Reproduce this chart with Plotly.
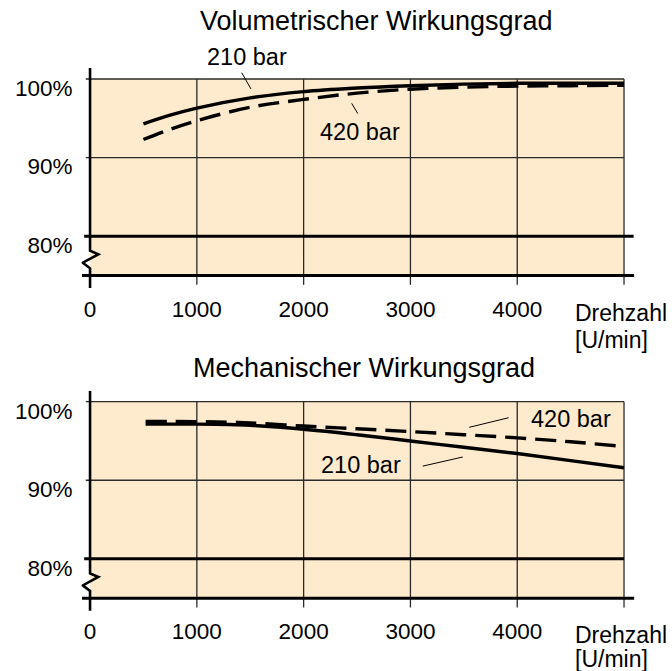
import plotly.graph_objects as go

# ---------------- data ----------------
vol_rpm = [500, 750, 1000, 1500, 2000, 2500, 3000, 3500, 4000, 4500, 5000]
vol_210 = [94.3, 95.4, 96.3, 97.6, 98.4, 98.85, 99.15, 99.35, 99.45, 99.45, 99.45]
vol_420 = [92.3, 93.6, 94.7, 96.4, 97.4, 98.2, 98.7, 98.95, 99.1, 99.15, 99.2]

mech_rpm = [520, 1000, 1300, 1500, 2000, 2500, 3000, 3500, 4000, 4500, 5000]
mech_210 = [97.15, 97.15, 97.1, 97.0, 96.5, 95.8, 95.0, 94.2, 93.4, 92.5, 91.6]
mech_rpm_420 = [520, 1000, 1300, 1500, 2000, 2500, 3000, 3500, 4000, 4500, 4950]
mech_420 = [97.5, 97.45, 97.4, 97.3, 96.9, 96.55, 96.2, 95.8, 95.4, 94.9, 94.35]

x_tick_vals = [0, 1000, 2000, 3000, 4000]
x_tick_text = ["0", "1000", "2000", "3000", "4000"]
y_tick_vals = [80, 90, 100]
y_tick_text = ["80%", "90%", "100%"]
grid_x = [1000, 2000, 3000, 4000, 5000]

titles = ["Volumetrischer Wirkungsgrad", "Mechanischer Wirkungsgrad"]
x_title = ["Drehzahl", "[U/min]"]

# ---------------- style ----------------
FONT = "Liberation Sans, Arial, Helvetica, sans-serif"
PEACH = "#FEEBCD"
GRID = "#2a2a2a"
W, H = 672, 671
XR = [-80, 5100]
YR = [73.4, 101.4]


def px_dom_x(a, b):
    return [a / W, b / W]


def px_dom_y(top, bot):
    return [1 - bot / H, 1 - top / H]


fig = go.Figure()

fig.add_trace(go.Scatter(x=vol_rpm, y=vol_210, mode="lines", line=dict(color="black", width=3.4, shape="spline"),
                         xaxis="x", yaxis="y", showlegend=False))
fig.add_trace(go.Scatter(x=vol_rpm, y=vol_420, mode="lines",
                         line=dict(color="black", width=3.4, shape="spline", dash="21px,9px"),
                         xaxis="x", yaxis="y", showlegend=False))
fig.add_trace(go.Scatter(x=mech_rpm, y=mech_210, mode="lines", line=dict(color="black", width=3.4, shape="spline"),
                         xaxis="x2", yaxis="y2", showlegend=False))
fig.add_trace(go.Scatter(x=mech_rpm_420, y=mech_420, mode="lines",
                         line=dict(color="black", width=3.4, shape="spline", dash="21px,9px"),
                         xaxis="x2", yaxis="y2", showlegend=False))

shapes = []


def panel_shapes(xr, yr, eighty_end):
    s = []
    s.append(dict(type="rect", xref=xr, yref=yr, x0=0, x1=5000, y0=75, y1=100,
                  fillcolor=PEACH, line=dict(width=0), layer="below"))
    for gx in grid_x:
        s.append(dict(type="line", xref=xr, yref=yr, x0=gx, x1=gx, y0=73.8, y1=100,
                      line=dict(color=GRID, width=1.3), layer="below"))
    for gy in [90, 100]:
        s.append(dict(type="line", xref=xr, yref=yr, x0=-40, x1=5000, y0=gy, y1=gy,
                      line=dict(color=GRID, width=1.3), layer="below"))
    s.append(dict(type="line", xref=xr, yref=yr, x0=-55, x1=eighty_end, y0=80, y1=80,
                  line=dict(color="black", width=3), layer="below"))
    s.append(dict(type="line", xref=xr, yref=yr, x0=-75, x1=5095, y0=75, y1=75,
                  line=dict(color="black", width=3), layer="below"))
    s.append(dict(type="path", xref=xr, yref=yr,
                  path="M 0,101.4 L 0,78.15 L 78,77.69 L -68,76.62 L 0,75.91 L 0,73.36",
                  line=dict(color="black", width=2.6), layer="above"))
    return s


shapes += panel_shapes("x", "y", 5090)
shapes += panel_shapes("x2", "y2", 5000)

leaders = [
    ("x", "y", 1420, 100.8, 1507, 98.73),
    ("x", "y", 2450, 96.9, 2507, 95.6),
    ("x2", "y2", 3551, 96.74, 3920, 97.96),
    ("x2", "y2", 3115, 91.8, 3490, 92.96),
]
for xr, yr, x0, y0, x1, y1 in leaders:
    shapes.append(dict(type="line", xref=xr, yref=yr, x0=x0, y0=y0, x1=x1, y1=y1,
                       line=dict(color="black", width=1)))

annotations = []
lab = dict(showarrow=False, font=dict(family=FONT, size=23.5, color="black"),
           xanchor="center", yanchor="middle")
annotations.append(dict(xref="x", yref="paper", x=1470, y=1 - 57 / H, text="210 bar", **lab))
annotations.append(dict(xref="x", yref="y", x=2528, y=93.25, text="420 bar", **lab))
annotations.append(dict(xref="x2", yref="y2", x=4504, y=97.8, text="420 bar", **lab))
annotations.append(dict(xref="x2", yref="y2", x=2537, y=91.9, text="210 bar", **lab))

tfont = dict(family=FONT, size=27, color="black")
annotations.append(dict(xref="paper", yref="paper", x=376.7 / W, y=1 - 21 / H, text=titles[0],
                        showarrow=False, font=tfont, xanchor="center", yanchor="middle"))
annotations.append(dict(xref="paper", yref="paper", x=364 / W, y=1 - 368 / H, text=titles[1],
                        showarrow=False, font=tfont, xanchor="center", yanchor="middle"))

afont = dict(family=FONT, size=23, color="black")
for yc1, yc2 in [(313, 340), (635, 659)]:
    annotations.append(dict(xref="paper", yref="paper", x=572.5 / W, y=1 - yc1 / H, text=x_title[0],
                            showarrow=False, font=afont, xanchor="left", yanchor="middle"))
    annotations.append(dict(xref="paper", yref="paper", x=572.5 / W, y=1 - yc2 / H, text=x_title[1],
                            showarrow=False, font=afont, xanchor="left", yanchor="middle"))

xdom = px_dom_x(81.5, 634.7)
tickfont = dict(family=FONT, size=22.5, color="black")
xax = dict(domain=xdom, range=XR, showgrid=False, zeroline=False, showline=False,
           tickvals=x_tick_vals, ticktext=x_tick_text, ticks="", tickfont=tickfont,
           ticklabelstandoff=5, fixedrange=True)
yax = dict(range=YR, showgrid=False, zeroline=False, showline=False,
           tickvals=y_tick_vals, ticktext=y_tick_text, ticks="", tickfont=tickfont,
           ticklabelshift=9, ticklabelstandoff=8, fixedrange=True)

fig.update_layout(
    width=W, height=H,
    margin=dict(l=0, r=0, t=0, b=0),
    paper_bgcolor="white", plot_bgcolor="white",
    xaxis=dict(**xax, anchor="y"),
    yaxis=dict(**yax, domain=px_dom_y(68, 288), anchor="x"),
    xaxis2=dict(**xax, anchor="y2"),
    yaxis2=dict(**yax, domain=px_dom_y(390.7, 610.7), anchor="x2"),
    shapes=shapes,
    annotations=annotations,
    showlegend=False,
)

fig.write_html("out.html", config={"displayModeBar": False},
               post_script="document.body.style.margin='0px';document.body.style.padding='0px';")
